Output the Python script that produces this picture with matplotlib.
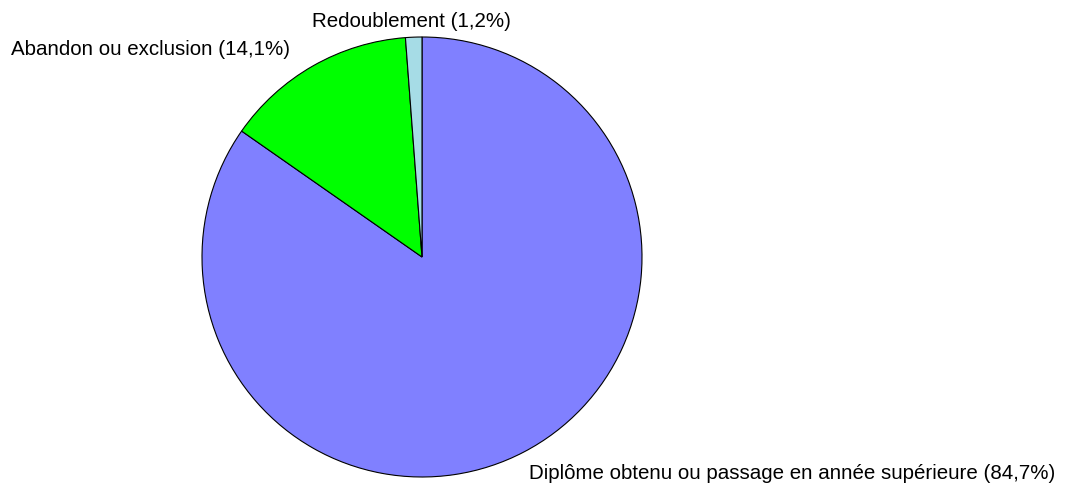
import matplotlib
matplotlib.use("Agg")
import matplotlib.pyplot as plt

# issue des etudiants (en %)
labels = ["Diplôme obtenu ou passage en année supérieure (84,7%)",
          "Abandon ou exclusion (14,1%)",
          "Redoublement (1,2%)"]
values = [84.7, 14.1, 1.2]
colors = ["#8080FF", "#00FF00", "#A6DCE6"]

plt.rcParams['font.family'] = ['Liberation Sans', 'DejaVu Sans']

W, H = 1086, 487
fig = plt.figure(figsize=(W / 100, H / 100), dpi=100)
cx, cy, r = 422, 257, 220
ax = fig.add_axes([(cx - r) / W, (H - cy - r) / H, 2 * r / W, 2 * r / H])
ax.pie(values, colors=colors, startangle=90, counterclock=False,
       wedgeprops=dict(edgecolor="black", linewidth=0.8))
ax.set_xlim(-1, 1)
ax.set_ylim(-1, 1)
ax.set_aspect("equal")
ax.axis("off")

# positions des etiquettes (pixels, ligne de base)
fs = 14.8
fig.text(529 / W, 1 - 479 / H, labels[0], fontsize=fs, va="baseline", ha="left")
fig.text(11 / W, 1 - 55 / H, labels[1], fontsize=fs, va="baseline", ha="left")
fig.text(312 / W, 1 - 27 / H, labels[2], fontsize=fs, va="baseline", ha="left")

fig.savefig("out.png", dpi=100)
